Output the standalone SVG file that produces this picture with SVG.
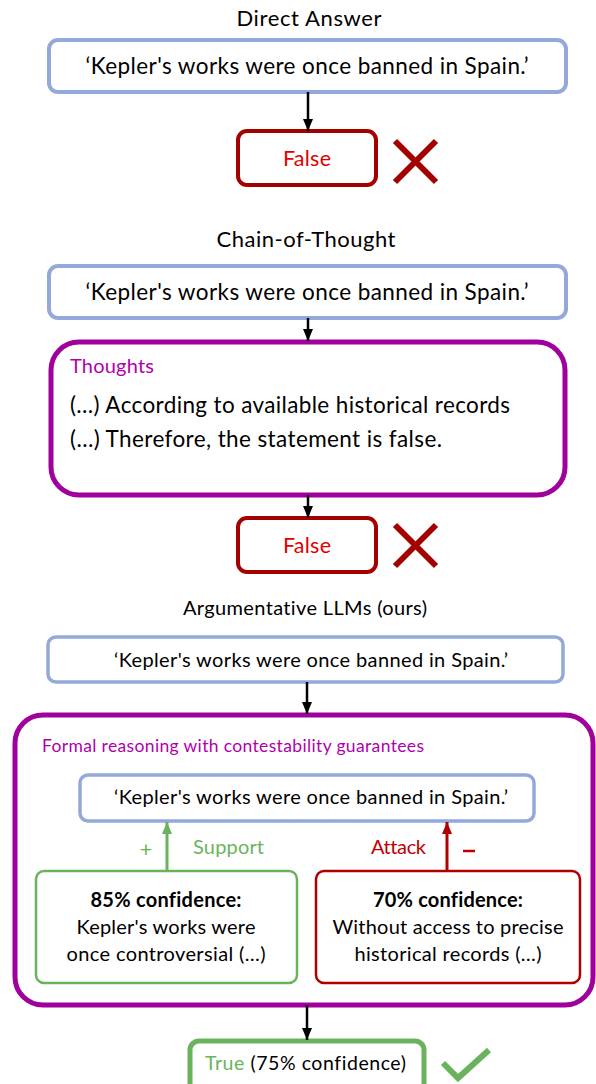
<svg xmlns="http://www.w3.org/2000/svg" width="596" height="1084" viewBox="0 0 596 1084">
<style>
text{font-family:Lato,"Open Sans","Liberation Sans",sans-serif;fill:#000;font-variant-ligatures:none}
.blue{fill:#fff;stroke:#94A8DA;stroke-width:4}
.blue3{fill:#fff;stroke:#94A8DA;stroke-width:3.5}
.redbox{fill:#fff;stroke:#A50000;stroke-width:4}
.purple{fill:#fff;stroke:#A0009C;stroke-width:5}
.greenbox{fill:#fff;stroke:#6AB35C;stroke-width:2.5}
.redbox2{fill:#fff;stroke:#B00000;stroke-width:2.5}
.ptxt{fill:#B000AC}
.rtxt{fill:#E00000}
.gtxt{fill:#6AB35C}
.atxt{fill:#C00000}
.arr{stroke:#000;stroke-width:2.5;fill:none}
</style>
<defs>
<marker id="ak" markerWidth="12" markerHeight="10" refX="12" refY="5" orient="auto" markerUnits="userSpaceOnUse"><path d="M0,0 L12,5 L0,10 z" fill="#000"/></marker>
<marker id="ag" markerWidth="12" markerHeight="10" refX="12" refY="5" orient="auto" markerUnits="userSpaceOnUse"><path d="M0,0 L12,5 L0,10 z" fill="#6AB35C"/></marker>
<marker id="ar" markerWidth="12" markerHeight="10" refX="12" refY="5" orient="auto" markerUnits="userSpaceOnUse"><path d="M0,0 L12,5 L0,10 z" fill="#B00000"/></marker>
</defs>

<text x="309" y="26" font-size="22" text-anchor="middle" textLength="145">Direct Answer</text>
<g id="claim1">
<rect class="blue" x="49" y="40" width="517" height="52" rx="9"/>
<text x="307" y="74" font-size="22.5" text-anchor="middle" textLength="443">‘Kepler's works were once banned in Spain.’</text>
</g>
<g id="false1">
<rect class="redbox" x="238" y="131" width="138" height="54" rx="9"/>
<text class="rtxt" x="307" y="166" font-size="21.5" text-anchor="middle" textLength="48">False</text>
</g>
<g id="cross1" stroke="#A50000" stroke-width="6"><path d="M395,141 L436,182 M436,141 L395,182"/></g>

<text x="306" y="247" font-size="22" text-anchor="middle" textLength="179">Chain-of-Thought</text>
<g id="claim2">
<rect class="blue" x="49" y="266" width="517" height="52" rx="9"/>
<text x="307" y="300" font-size="22.5" text-anchor="middle" textLength="443">‘Kepler's works were once banned in Spain.’</text>
</g>
<g id="thoughts">
<rect class="purple" x="51" y="342" width="514" height="153" rx="28"/>
<text class="ptxt" x="70" y="373" font-size="20" textLength="84">Thoughts</text>
<text x="70" y="413" font-size="22.5" textLength="440">(…) According to available historical records</text>
<text x="70" y="447" font-size="22.5" textLength="372">(…) Therefore, the statement is false.</text>
</g>
<g id="false2">
<rect class="redbox" x="238" y="518" width="138" height="54" rx="9"/>
<text class="rtxt" x="307" y="553" font-size="21.5" text-anchor="middle" textLength="48">False</text>
</g>
<g id="cross2" stroke="#A50000" stroke-width="6"><path d="M395,525 L436,566 M436,525 L395,566"/></g>

<text x="305" y="615" font-size="20" text-anchor="middle" textLength="244">Argumentative LLMs (ours)</text>
<g id="claim3">
<rect class="blue3" x="48" y="637" width="515" height="45" rx="8"/>
<text x="311" y="667" font-size="20" text-anchor="middle" textLength="394">‘Kepler's works were once banned in Spain.’</text>
</g>
<g id="formal">
<rect class="purple" x="15" y="715" width="578" height="290" rx="28"/>
<text class="ptxt" x="42" y="752" font-size="17.5" textLength="382">Formal reasoning with contestability guarantees</text>
</g>
<g id="claim4">
<rect class="blue3" x="80" y="775" width="454" height="46" rx="8"/>
<text x="311" y="804" font-size="20" text-anchor="middle" textLength="394">‘Kepler's works were once banned in Spain.’</text>
</g>
<g id="support">
<rect class="greenbox" x="36" y="871" width="261" height="112" rx="8"/>
<text x="166" y="907" font-size="20" font-weight="bold" text-anchor="middle" textLength="151">85% confidence:</text>
<text x="166" y="934" font-size="20" text-anchor="middle" textLength="179">Kepler's works were</text>
<text x="166" y="961" font-size="20" text-anchor="middle" textLength="199">once controversial (…)</text>
</g>
<g id="attack">
<rect class="redbox2" x="316" y="871" width="264" height="112" rx="8"/>
<text x="448" y="907" font-size="20" font-weight="bold" text-anchor="middle" textLength="150">70% confidence:</text>
<text x="448" y="934" font-size="20" text-anchor="middle" textLength="231">Without access to precise</text>
<text x="448" y="961" font-size="20" text-anchor="middle" textLength="187">historical records (…)</text>
</g>
<g id="result">
<rect x="190" y="1041" width="234" height="60" rx="9" fill="#fff" stroke="#6AB35C" stroke-width="5"/>
<text x="205" y="1070" font-size="19.5" textLength="201"><tspan class="gtxt">True</tspan> (75% confidence)</text>
</g>
<g id="check"><path d="M443,1063 L458,1078 L489,1050" fill="none" stroke="#6AB35C" stroke-width="6"/></g>

<g id="connectors">
<line class="arr" x1="308" y1="92" x2="308" y2="131" marker-end="url(#ak)"/>
<line class="arr" x1="308" y1="318" x2="308" y2="341" marker-end="url(#ak)"/>
<line class="arr" x1="308" y1="495" x2="308" y2="518" marker-end="url(#ak)"/>
<line class="arr" x1="307" y1="682" x2="307" y2="714" marker-end="url(#ak)"/>
<line class="arr" x1="307" y1="1005" x2="307" y2="1040" marker-end="url(#ak)"/>
<line x1="167" y1="870" x2="167" y2="822" stroke="#6AB35C" stroke-width="3" marker-end="url(#ag)"/>
<line x1="447" y1="870" x2="447" y2="822" stroke="#B00000" stroke-width="3" marker-end="url(#ar)"/>
<text class="gtxt" x="146" y="857" font-size="22" text-anchor="middle">+</text>
<text class="gtxt" x="193" y="854" font-size="20" textLength="71">Support</text>
<text class="atxt" x="371" y="854" font-size="20" textLength="55">Attack</text>
<path d="M463,851 L475,851" stroke="#C00000" stroke-width="2.5"/>
</g>
</svg>
